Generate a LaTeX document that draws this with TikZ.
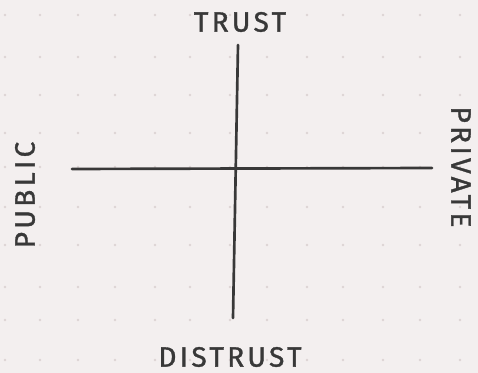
\documentclass[tikz,border=0pt]{standalone}
\usepackage{fontspec}
\usepackage{tikz}
\usetikzlibrary{positioning, calc}
\newfontfamily\handfont[LetterSpace=12, FakeBold=1.2]{Fira Sans}
\definecolor{paper}{HTML}{F3EFEF}
\definecolor{dotgray}{HTML}{DCD4D4}
\definecolor{pencil}{HTML}{383838}

\begin{document}
\begin{tikzpicture}[
  x=0.75pt, y=-0.75pt,
  axis/.style={draw=pencil, line width=2pt, line cap=round},
  label/.style={text=pencil, font=\handfont\fontsize{21}{21}\selectfont, inner sep=0pt}
]
  % paper and dot grid
  \fill[paper] (0,0) rectangle (478,373);
  \useasboundingbox (0,0) rectangle (478,373);
  \foreach \x in {5,40,78,115,155,190,230,267,307,343,383,420,460}
    \foreach \y in {15,57,95,133,167,207,245,287,320,360}
      \fill[dotgray] (\x,\y) circle (1.3);

  % axes
  \coordinate (top) at (238,45);
  \coordinate (bottom) at (233,318);
  \coordinate (left) at (72,169);
  \coordinate (right) at (432,168);
  \draw[axis] (top) -- (bottom);
  \draw[axis] (left) -- (right);

  % labels
  \node[label] (trust) at (240,22) {TRUST};
  \node[label] (distrust) at (230,357) {DISTRUST};
  \node[label, rotate=90] (public) at (25,195) {PUBLIC};
  \node[label, rotate=-90] (private) at (461,167) {PRIVATE};
\end{tikzpicture}
\end{document}
